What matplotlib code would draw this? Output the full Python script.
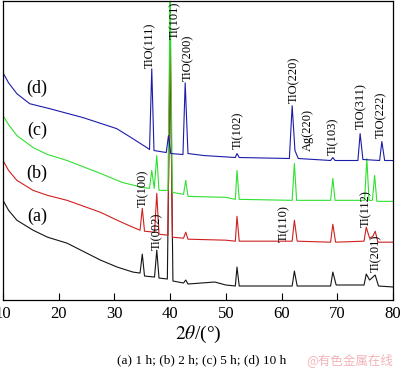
import matplotlib
matplotlib.use("Agg")
import matplotlib.pyplot as plt

plt.rcParams["font.family"] = ["Liberation Serif", "DejaVu Serif"]
plt.rcParams["mathtext.fontset"] = "stix"

# XRD patterns: 2theta (deg) and intensity (a.u.)
theta_d = [10, 11, 12.5, 14.8, 18.4, 24.4, 30.4, 33, 35.8, 36.3, 36.7, 37.1,
           39.3, 39.7, 40.1, 42.3, 42.7, 43.2, 46, 51.7, 52.0, 52.4, 61.4, 61.9,
           62.4, 63, 68.8, 69.2, 69.6, 73.7, 74.1, 74.6, 77.6, 78.0, 78.5, 80]
int_d = [228, 218, 207, 197, 192, 183, 172, 163, 153, 151, 232, 150,
         148, 165, 147, 146, 218, 147, 145, 143, 147, 143, 142, 195,
         150, 142, 140, 143, 140, 140, 167, 141, 140, 159, 140, 140]

theta_c = [10, 11, 12.5, 15.4, 18, 21.5, 27.5, 31.4, 35, 36.3, 36.7, 37.15,
           37.6, 38.0, 39.6, 40.0, 40.4, 42.4, 42.8, 43.2, 50, 51.7, 52.0, 52.4,
           61.9, 62.3, 62.7, 68.8, 69.2, 69.6, 74.9, 75.3, 75.7, 76.3, 76.7, 77.1,
           80]
int_c = [185, 176, 165, 153, 146, 140, 127, 118, 113, 112, 130, 112,
         145, 110, 110, 310, 108, 106, 120, 104, 103, 101, 130, 101,
         100, 137, 100, 100, 122, 100, 100, 142, 100, 100, 125, 99,
         99]

theta_b = [10, 11, 12.5, 15.4, 18, 21.5, 27.5, 30.5, 33.3, 34.6, 35.0, 35.4,
           37.2, 37.6, 38.0, 39.6, 40.0, 40.4, 42.4, 42.8, 43.2, 50, 51.7, 52.0,
           52.4, 61.9, 62.3, 62.8, 68.8, 69.2, 69.7, 74.8, 75.2, 75.8, 76.4, 76.8,
           77.3, 80]
int_b = [140, 130, 120, 110, 105, 100, 88, 80, 73, 70, 92, 69,
         68, 107, 66, 65, 275, 63, 62, 68, 61, 60, 59, 84,
         59, 59, 80, 59, 58, 76, 58, 59, 73, 62, 64, 69,
         58, 58]

theta_a = [10, 11, 12.5, 15.4, 18, 21.5, 27.5, 30.5, 33.3, 34.6, 35.0, 35.4,
           37.2, 37.6, 38.0, 39.5, 40.0, 40.5, 42.4, 42.8, 43.2, 48, 50, 51.7,
           52.0, 52.4, 61.9, 62.3, 62.8, 68.8, 69.2, 69.8, 74.8, 75.2, 75.8, 76.8,
           77.4, 80]
int_a = [100, 90, 80, 70, 63, 57, 40, 33, 28, 27, 46, 24,
         23, 50, 22, 21, 255, 19, 17, 20, 16, 18, 15, 14,
         33, 14, 14, 29, 14, 14, 28, 15, 15, 26, 20, 25,
         14, 13]

peak_labels = ["TiO(111)", "Ti(101)", "TiO(200)", "Ti(102)", "TiO(220)", "Ag(220)",
               "Ti(103)", "TiO(311)", "TiO(222)", "Ti(100)", "Ti(002)", "Ti(110)",
               "Ti(112)", "Ti(201)"]
peak_theta = [36.4, 40.9, 43.2, 52.2, 62.3, 64.8, 69.2, 74.3, 77.9, 35.2, 37.7,
              60.5, 75.2, 77.0]
peak_label_y = [233, 262, 220, 152, 198, 150, 146, 172, 163, 93, 50, 58, 73, 28]

curve_names = ["(d)", "(c)", "(b)", "(a)"]
curve_name_y = [212, 170, 127, 84]

fig = plt.figure(figsize=(4.0, 3.74), dpi=100)
ax = fig.add_axes([0.0075, 0.198, 0.975, 0.799])

ax.plot(theta_a, int_a, color="#141414", lw=0.8)
ax.plot(theta_b, int_b, color="#d02020", lw=0.8)
ax.plot(theta_c, int_c, color="#30e030", lw=0.8)
ax.plot(theta_d, int_d, color="#1c1ca8", lw=0.8)

for label, x, y in zip(peak_labels, peak_theta, peak_label_y):
    ax.text(x, y, label, rotation=90, ha="center", va="bottom", fontsize=9)

for name, y in zip(curve_names, curve_name_y):
    ax.text(16.1, y, name, ha="center", va="center", fontsize=13)

ax.set_xlim(10, 80)
ax.set_ylim(0, 300)
ax.set_xticks([10, 20, 30, 40, 50, 60, 70, 80])
ax.set_yticks([])
ax.tick_params(axis="x", direction="in", length=5, labelsize=12, pad=4)
ax.set_xlabel(r"$\mathit{2\theta}$/(°)", fontsize=14, labelpad=2)
for sp in ax.spines.values():
    sp.set_linewidth(0.9)

fig.text(0.505, 0.038, "(a) 1 h; (b) 2 h; (c) 5 h; (d) 10 h", ha="center",
         va="center", fontsize=9.5)
fig.text(0.875, 0.038, "@有色金属在线", ha="center", va="center", fontsize=9,
         color="#f2b4b8", family=["Noto Sans CJK SC", "DejaVu Sans"])

fig.savefig("out.png", dpi=100)
